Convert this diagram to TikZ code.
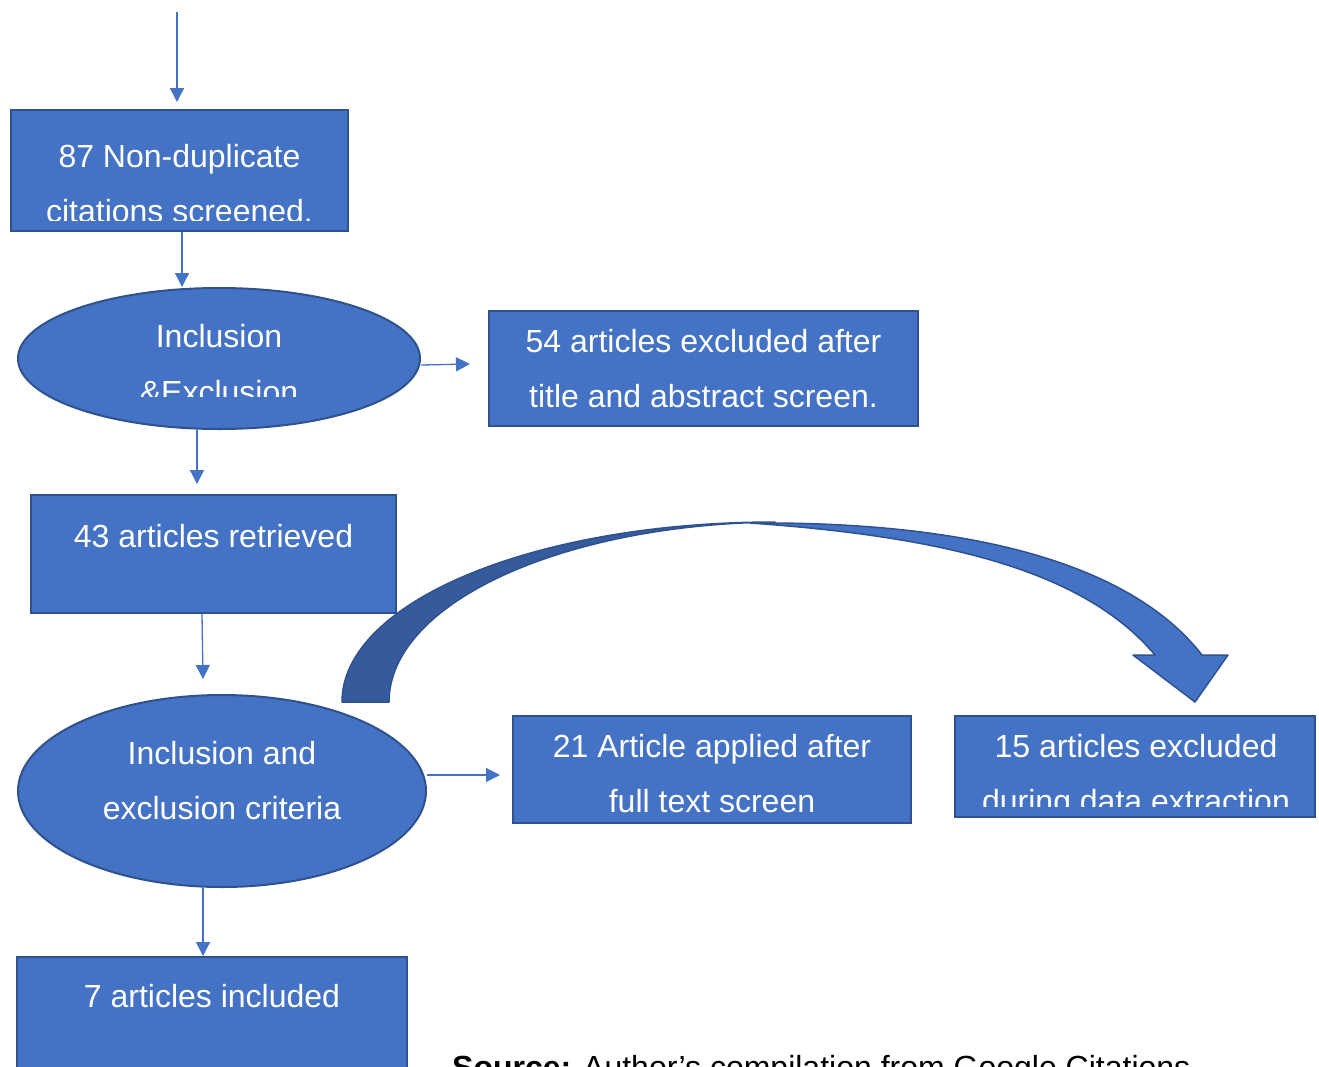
\documentclass[tikz,border=0pt]{standalone}
\usepackage{fontspec}
\setmainfont{Liberation Sans}
\usetikzlibrary{shapes.geometric,arrows.meta}
\definecolor{boxfill}{HTML}{4472C4}
\definecolor{boxline}{HTML}{2F528F}
\definecolor{bandshade}{RGB}{53,91,157}

\tikzset{
  stage/.style={rectangle, draw=boxline, fill=boxfill, line width=2pt, inner sep=0pt},
  oval/.style={ellipse, draw=boxline, fill=boxfill, line width=2pt, inner sep=0pt},
  boxtext/.style={text=white, font=\fontsize{32}{54}\selectfont, anchor=base, inner sep=0pt},
  flow/.style={draw=boxfill, line width=1.3pt, -{Triangle[length=14pt,width=14pt]}},
  band/.style={draw=boxline, line width=1.5pt, line join=round},
}

\begin{document}
\begin{tikzpicture}[x=1pt,y=-1pt]
\clip (0,0) rectangle (1319,1066);

% stages of the screening flow
\node[stage, minimum width=337pt, minimum height=121pt] (b1) at (179.5,170.5) {};
\node[oval, minimum width=402pt, minimum height=141pt] (e1) at (219,358.5) {};
\node[stage, minimum width=429pt, minimum height=115pt] (b54) at (703.5,368.5) {};
\node[stage, minimum width=365pt, minimum height=118pt] (b43) at (213.5,554) {};
\node[oval, minimum width=408pt, minimum height=192pt] (e2) at (222,791) {};
\node[stage, minimum width=398pt, minimum height=107pt] (b21) at (712,769.5) {};
\node[stage, minimum width=360pt, minimum height=101pt] (b15) at (1135,766.5) {};
\node[stage, minimum width=390pt, minimum height=150pt] (b7) at (212,1032) {};

% texts, cut off at the bottom of their text frames
\begin{scope}
  \clip (10,100) rectangle (349,220.5);
  \node[boxtext] (t1a) at (179.5,167) {87 Non-duplicate};
  \node[boxtext] (t1b) at (179.5,222) {citations screened.};
\end{scope}
\begin{scope}
  \clip (17,290) rectangle (421,396.5);
  \node[boxtext] (te1a) at (219,347.5) {Inclusion};
  \node[boxtext] (te1b) at (219,403) {\&Exclusion};
\end{scope}
\node[boxtext] (t54a) at (703.5,352.5) {54 articles excluded after};
\node[boxtext] (t54b) at (703.5,407.5) {title and abstract screen.};
\node[boxtext] (t43) at (213.5,547.5) {43 articles retrieved};
\node[boxtext] (te2a) at (222,764.5) {Inclusion and};
\node[boxtext] (te2b) at (222,819.5) {exclusion criteria};
\node[boxtext] (t21a) at (712,757.5) {21 Article applied after};
\node[boxtext] (t21b) at (712,812.5) {full text screen};
\begin{scope}
  \clip (954,715) rectangle (1316,806.5);
  \node[boxtext] (t15a) at (1136,757) {15 articles excluded};
  \node[boxtext] (t15b) at (1136,812.5) {during data extraction};
\end{scope}
\node[boxtext] (t7) at (212,1007.5) {7 articles included};

% connectors
\coordinate (feed) at (177,12);
\draw[flow, shorten >=7pt] (feed) -- (feed |- b1.north);
\draw[flow] ([xshift=2.5pt]b1.south) -- ([xshift=2.5pt]b1.south |- e1.north);
\draw[flow] ([yshift=-6.5pt]e1.east) -- ([xshift=-18pt,yshift=4.5pt]b54.west);
\coordinate (e1s) at ([xshift=-22pt]e1.south);
\draw[flow, shorten >=10pt] (e1s) -- (e1s |- b43.north);
\draw[flow] ([xshift=-11.5pt]b43.south) -- ([xshift=-19pt,yshift=15pt]e2.north);
\draw[flow] ([yshift=16pt]e2.east) -- ([xshift=-12pt,yshift=-5.5pt]b21.west);
\coordinate (e2s) at ([xshift=-19pt]e2.south);
\draw[flow] (e2s) -- (e2s |- b7.north);

% curved block arrow over the row of results: shaded back half, then the front half with its head
\filldraw[band, fill=bandshade]
  (342,702) .. controls (342,602) and (534,522) .. (775,522)
  .. controls (560,524.5) and (389,604) .. (389,702) -- cycle;
\filldraw[band, fill=boxfill]
  (750,523) .. controls (1000,521) and (1140,575) .. (1202,655)
  -- (1228,655) -- (1195,702) -- (1133,655) -- (1155,655)
  .. controls (1085,572) and (950,537) .. (750,523) -- cycle;

% source note
\node[anchor=base west, inner sep=0pt, font=\fontsize{32}{38}\selectfont] (note)
  at (452,1078) {\textbf{Source:} Author’s compilation from Google Citations};
\end{tikzpicture}
\end{document}
